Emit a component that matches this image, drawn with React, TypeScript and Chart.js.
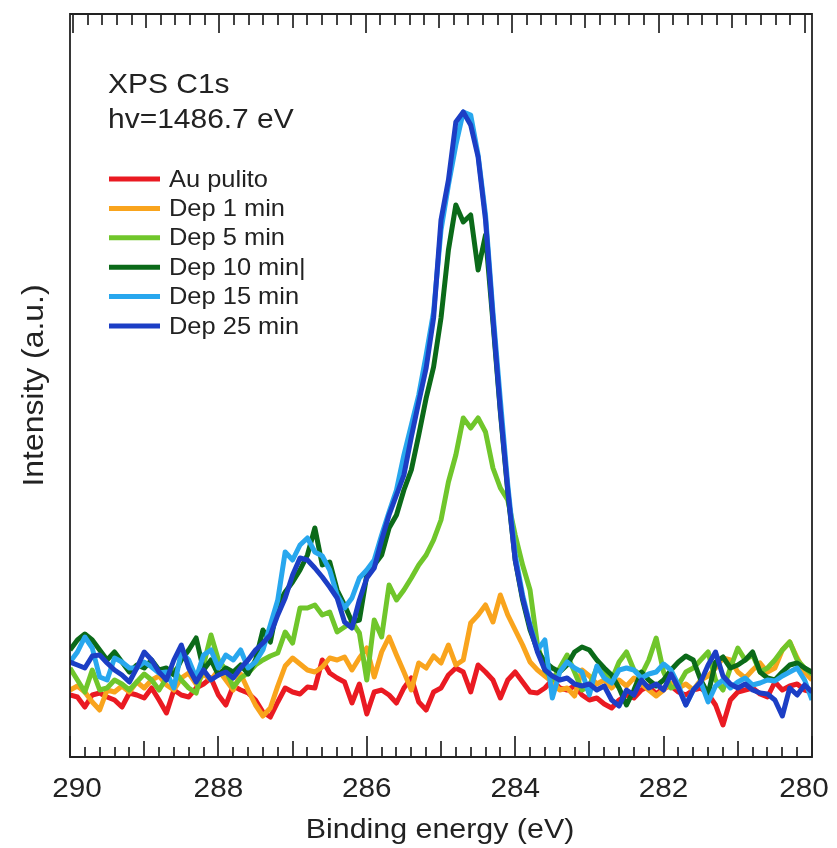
import React, { useEffect, useRef } from "react";
import { Chart, registerables } from "chart.js";

Chart.register(...registerables);

// Binding energy grid (eV), 0.1 eV step from 290 to 280
const ENERGY: number[] = Array.from({ length: 101 }, (_, i) => Math.round((290 - i * 0.1) * 10) / 10);

const AU_PULITO = [
  6.2, 6.0, 5.0, 6.2, 6.4, 6.0, 5.7, 5.0, 6.4, 6.2,
  5.9, 6.9, 5.7, 4.4, 6.7, 6.2, 6.0, 6.9, 7.3, 7.9,
  6.2, 5.2, 7.1, 6.7, 6.4, 5.7, 4.5, 4.0, 5.5, 6.9,
  6.5, 6.3, 7.0, 6.9, 9.7, 8.4, 7.9, 7.5, 5.4, 7.3,
  4.3, 6.5, 6.7, 6.2, 5.4, 6.9, 7.9, 5.5, 4.7, 6.5,
  6.9, 8.2, 8.9, 8.5, 6.5, 9.2, 8.5, 7.7, 5.9, 7.7,
  8.5, 7.5, 6.5, 6.4, 6.9, 7.7, 6.9, 6.7, 7.1, 6.2,
  5.7, 5.9, 5.3, 4.9, 5.7, 6.2, 5.9, 6.7, 7.1, 6.3,
  6.9, 7.1, 6.5, 6.2, 6.7, 6.9, 6.3, 5.2, 3.2, 5.7,
  6.5, 6.7, 6.9, 6.3, 6.0, 7.5, 6.7, 7.1, 7.3, 6.7,
  6.5,
];

const DEP_1_MIN = [
  6.7, 7.1, 6.5, 5.5, 4.7, 6.7, 6.5, 7.1, 6.5, 7.5,
  6.9, 7.7, 8.1, 7.2, 6.7, 7.9, 8.4, 7.3, 8.3, 7.7,
  8.7, 7.7, 6.7, 8.3, 6.7, 5.2, 4.1, 4.9, 7.1, 9.1,
  9.9, 9.3, 8.7, 8.5, 9.0, 9.9, 9.7, 10.0, 8.7, 9.9,
  10.9, 8.0, 10.5, 12.0, 10.2, 8.5, 6.7, 9.4, 8.9, 10.1,
  9.4, 11.2, 9.2, 9.7, 13.4, 14.2, 15.2, 13.5, 16.2, 14.2,
  12.7, 11.2, 9.5, 8.7, 8.1, 7.5, 6.7, 6.9, 6.1, 8.7,
  8.1, 7.3, 7.7, 6.9, 7.7, 7.1, 7.9, 7.3, 6.7, 6.1,
  6.7, 7.4, 6.9, 7.3, 6.7, 7.7, 8.1, 8.9, 9.9, 9.7,
  8.5, 7.9, 8.7, 9.4, 8.5, 8.9, 10.7, 11.5, 9.9, 8.5,
  7.7,
];

const DEP_5_MIN = [
  8.9, 7.7, 6.5, 8.7, 6.7, 6.9, 7.7, 7.3, 6.7, 7.5,
  8.3, 7.7, 6.7, 7.9, 8.7, 7.7, 6.9, 6.4, 9.2, 12.2,
  9.7, 8.7, 7.0, 7.9, 8.4, 9.2, 9.7, 10.1, 10.4, 12.5,
  11.4, 14.9, 14.9, 15.2, 14.2, 14.5, 12.5, 13.0, 13.5, 12.4,
  7.7, 13.7, 12.0, 17.2, 15.7, 16.7, 17.9, 19.2, 20.2, 21.7,
  23.7, 27.5, 30.2, 33.9, 32.9, 33.9, 32.5, 28.9, 26.9, 25.7,
  22.2, 19.2, 16.7, 11.2, 8.7, 7.7, 8.9, 10.2, 8.5, 6.7,
  7.1, 8.9, 8.5, 7.7, 9.5, 10.5, 8.7, 8.2, 9.7, 11.9,
  8.5, 6.9, 7.2, 8.5, 8.9, 9.7, 10.5, 7.7, 6.7, 8.9,
  10.9, 9.7, 10.2, 8.5, 8.9, 9.7, 10.7, 11.5, 9.7, 8.9,
  8.3,
];

const DEP_10_MIN = [
  10.7, 11.7, 12.3, 11.7, 10.7, 9.7, 10.5, 9.5, 8.5, 9.2,
  8.9, 9.7, 8.7, 8.9, 8.2, 9.7, 10.7, 11.9, 8.7, 9.7,
  8.2, 8.9, 8.5, 9.2, 8.3, 9.7, 12.7, 11.5, 15.2, 16.5,
  17.5, 18.7, 20.2, 22.9, 19.2, 19.5, 16.7, 15.2, 13.5, 13.7,
  18.2, 19.2, 20.2, 22.9, 24.2, 26.7, 28.7, 32.2, 35.9, 39.0,
  43.9, 50.7, 55.2, 53.5, 54.2, 48.7, 52.2, 43.5, 34.5, 26.5,
  19.7, 15.7, 12.7, 10.7, 9.5, 8.9, 8.5, 9.2, 10.5, 11.0,
  10.7, 9.7, 8.9, 8.2, 6.9, 5.2, 6.7, 8.5, 7.7, 7.1,
  7.7, 8.7, 9.5, 10.1, 9.7, 7.7, 6.3, 9.5, 10.0, 8.9,
  9.2, 9.7, 10.5, 8.5, 7.9, 7.7, 8.5, 9.2, 9.4, 8.9,
  8.5,
];

const DEP_15_MIN = [
  9.5, 10.5, 12.0, 10.9, 8.0, 7.7, 9.9, 9.5, 8.9, 8.9,
  9.5, 9.0, 8.4, 8.5, 6.9, 10.5, 9.7, 7.9, 10.2, 10.7,
  8.9, 10.2, 9.7, 10.7, 8.9, 9.5, 10.7, 13.2, 15.7, 20.5,
  19.7, 21.2, 21.9, 20.5, 20.1, 18.7, 16.2, 14.9, 15.9, 17.9,
  18.7, 19.7, 22.2, 24.5, 26.7, 30.2, 33.2, 36.2, 40.2, 44.5,
  52.7, 57.2, 61.2, 64.5, 64.2, 60.2, 54.2, 44.5, 35.7, 27.2,
  20.2, 16.2, 13.2, 10.7, 11.7, 5.9, 8.5, 9.5, 8.9, 8.5,
  6.2, 9.1, 7.9, 7.4, 8.7, 8.9, 8.7, 7.9, 8.3, 8.5,
  9.3, 8.7, 7.2, 5.2, 6.7, 7.5, 5.5, 7.1, 7.7, 6.9,
  7.5, 7.9, 7.2, 7.4, 7.7, 7.6, 8.1, 8.5, 8.9, 7.7,
  5.7,
];

const DEP_25_MIN = [
  9.5, 9.2, 8.9, 10.1, 10.2, 9.4, 8.7, 8.2, 7.5, 8.9,
  10.5, 9.7, 8.5, 7.7, 9.7, 11.2, 8.9, 7.5, 8.7, 7.7,
  8.2, 8.5, 7.9, 8.9, 9.7, 10.7, 11.4, 12.2, 14.2, 15.9,
  18.2, 19.9, 19.7, 18.9, 18.0, 17.0, 15.9, 13.5, 12.9, 15.7,
  17.9, 18.9, 21.7, 24.2, 26.2, 28.2, 32.0, 35.5, 38.9, 43.9,
  53.7, 57.7, 63.5, 64.5, 63.2, 60.0, 53.7, 43.9, 34.7, 26.7,
  19.7, 15.9, 13.0, 10.5, 8.7, 8.1, 7.7, 7.9, 7.3, 7.1,
  7.3, 6.7, 7.1, 5.7, 5.1, 6.7, 6.2, 7.7, 6.9, 7.3,
  6.7, 8.3, 6.9, 5.2, 6.7, 7.5, 9.2, 10.5, 8.1, 7.3,
  6.9, 7.3, 6.7, 6.4, 6.3, 5.7, 4.1, 6.9, 6.2, 7.2,
  6.5,
];

const SERIES_LABELS = ["Au pulito", "Dep 1 min", "Dep 5 min", "Dep 10 min|", "Dep 15 min", "Dep 25 min"];
const SERIES_DATA = [AU_PULITO, DEP_1_MIN, DEP_5_MIN, DEP_10_MIN, DEP_15_MIN, DEP_25_MIN];
const SERIES_COLORS = ["#ea1a22", "#f9a41d", "#70c62b", "#0b6a19", "#28a7ee", "#1c3ec5"];

const X_TICK_LABELS = [290, 288, 286, 284, 282, 280];
const X_MIN = 280;
const X_MAX = 290;
const Y_MAX = 74.3;

const ANNOTATION_LINES = ["XPS C1s", "hv=1486.7 eV"];
const X_TITLE = "Binding energy (eV)";
const Y_TITLE = "Intensity (a.u.)";

const FONT = '"Liberation Sans", Arial, sans-serif';
const INK = "#222222";

function stretchedText(ctx: any, text: string, x: number, y: number, sx: number, align: string) {
  ctx.save();
  ctx.translate(x, y);
  ctx.scale(sx, 1);
  ctx.textAlign = align;
  ctx.fillText(text, 0, 0);
  ctx.restore();
}

const framePlugin = {
  id: "xpsFrame",
  afterDatasetsDraw(chart: any) {
    const { ctx, chartArea: a, scales } = chart;
    const xs = scales.x;
    const xt = scales.xt;
    ctx.save();
    ctx.strokeStyle = INK;
    ctx.lineWidth = 1.8;
    ctx.beginPath();
    ctx.rect(a.left, a.top, a.right - a.left, a.bottom - a.top);
    ctx.stroke();
    ctx.lineWidth = 1.7;
    for (let k = 0; k <= 50; k++) {
      const e = X_MIN + k * 0.2;
      const bottomLen = k % 10 === 0 ? 21 : k % 5 === 0 ? 16 : 10;
      const topLen = k % 10 === 0 ? 19 : k % 5 === 0 ? 14 : 11;
      const pb = Math.round(xs.getPixelForValue(e));
      const pt = Math.round(xt.getPixelForValue(e));
      ctx.beginPath();
      ctx.moveTo(pb, a.bottom);
      ctx.lineTo(pb, a.bottom - bottomLen);
      ctx.moveTo(pt, a.top);
      ctx.lineTo(pt, a.top + topLen);
      ctx.stroke();
    }
    ctx.restore();
  },
  afterDraw(chart: any) {
    const { ctx, chartArea: a, scales } = chart;
    const xs = scales.x;
    ctx.save();
    ctx.fillStyle = INK;
    ctx.textBaseline = "alphabetic";
    // x tick labels
    ctx.font = `27px ${FONT}`;
    for (const v of X_TICK_LABELS) {
      let px = xs.getPixelForValue(v);
      if (v === X_MAX) px += 7;
      if (v === X_MIN) px -= 8;
      stretchedText(ctx, String(v), px, a.bottom + 40, 1.1, "center");
    }
    // x title
    ctx.font = `28px ${FONT}`;
    stretchedText(ctx, X_TITLE, (a.left + a.right) / 2 - 1, a.bottom + 81, 1.085, "center");
    // y title (rotated)
    ctx.save();
    ctx.translate(43, (a.top + a.bottom) / 2);
    ctx.rotate(-Math.PI / 2);
    ctx.font = `29px ${FONT}`;
    stretchedText(ctx, Y_TITLE, 0, 0, 1.1, "center");
    ctx.restore();
    // annotation
    ctx.font = `28px ${FONT}`;
    ANNOTATION_LINES.forEach((t, i) => stretchedText(ctx, t, a.left + 38, a.top + 79 + i * 35, 1.07, "left"));
    // legend
    ctx.font = `24px ${FONT}`;
    ctx.textBaseline = "middle";
    SERIES_LABELS.forEach((label, i) => {
      const y = a.top + 165 + i * 29.4;
      ctx.strokeStyle = SERIES_COLORS[i];
      ctx.lineWidth = 5;
      ctx.beginPath();
      ctx.moveTo(a.left + 39, y);
      ctx.lineTo(a.left + 90, y);
      ctx.stroke();
      ctx.fillStyle = INK;
      stretchedText(ctx, label, a.left + 99, y + 1, 1.06, "left");
    });
    ctx.restore();
  },
};

export default function App() {
  const canvasRef = useRef<HTMLCanvasElement | null>(null);

  useEffect(() => {
    document.body.style.margin = "0";
    const canvas = canvasRef.current;
    if (!canvas) return;
    const datasets = SERIES_LABELS.map((label, s) => ({
      label,
      data: ENERGY.map((e, i) => ({ x: e, y: SERIES_DATA[s][i] })),
      borderColor: SERIES_COLORS[s],
      backgroundColor: SERIES_COLORS[s],
      borderWidth: 5,
      pointRadius: 0,
      tension: 0,
      borderJoinStyle: "round" as const,
      fill: false,
      order: SERIES_LABELS.length - s,
    }));
    const chart = new Chart(canvas, {
      type: "line",
      data: { datasets },
      options: {
        animation: false,
        responsive: false,
        events: [],
        layout: { padding: { left: 70, right: 25, top: 14, bottom: 91 } },
        plugins: { legend: { display: false }, tooltip: { enabled: false }, title: { display: false } },
        scales: {
          x: { type: "linear", min: X_MIN, max: X_MAX, reverse: true, display: false },
          xt: { type: "linear", position: "top", min: 279.904, max: 290.041, reverse: true, display: false },
          y: { type: "linear", min: 0, max: Y_MAX, display: false },
        },
      },
      plugins: [framePlugin],
    });
    return () => chart.destroy();
  }, []);

  return (
    <div style={{ width: 837, height: 848, background: "#fff" }}>
      <canvas ref={canvasRef} width={837} height={848} style={{ display: "block" }} />
    </div>
  );
}
